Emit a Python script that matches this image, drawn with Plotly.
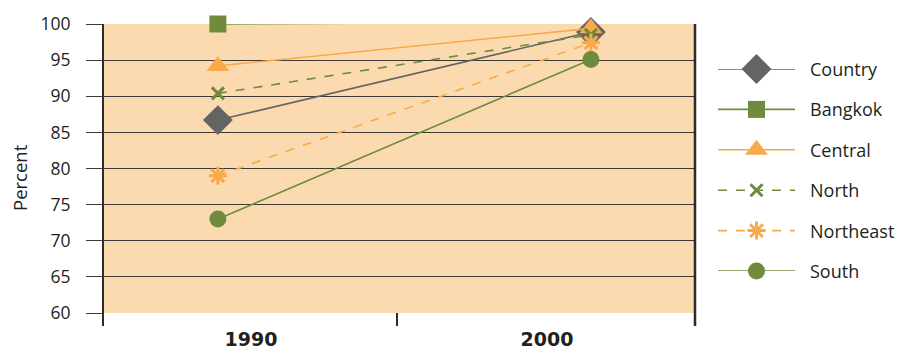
import plotly.graph_objects as go

years = [1990, 2000]
year_labels = ["1990", "2000"]
series_names = ["Country", "Bangkok", "Central", "North", "Northeast", "South"]
country = [86.7, 98.9]
bangkok = [100.0, 100.3]
central = [94.2, 99.4]
north = [90.4, 98.5]
northeast = [79.0, 97.4]
south = [73.0, 95.1]
y_ticks = [60, 65, 70, 75, 80, 85, 90, 95, 100]

values = [country, bangkok, central, north, northeast, south]
colors = ["#646464", "#6f8b3c", "#f9a94b", "#6f8b3c", "#f9a94b", "#6f8b3c"]
dashes = ["solid", "solid", "solid", "dash", "dash", "solid"]
symbols = ["diamond", "square", "triangle-up", "x-thin-open", "asterisk-open", "circle"]
sizes = [23, 17, 20, 12, 15, 17]

BG = "#fcdab0"
DARK = "#2e2a26"
TXT = "#231f20"
OFF = 8  # page body margin
W, H = 903 - OFF, 349 - OFF


def px(x):
    return (x - OFF) / W


def py(y):
    return (H - (y - OFF)) / H


# plot area in screen pixels
PX0, PX1, PY0, PY1 = 103, 695, 24, 313
xd = [px(PX0), px(PX1)]
yd = [py(PY1), py(PY0)]

# x axis: markers sit at fixed fractions of the plot width; labels at category centres
lo, hi = 1986.92, 2002.79
span = hi - lo
label_pos = [lo + 0.25 * span, lo + 0.75 * span]

fig = go.Figure()
for name, v, c, d, s, sz in zip(series_names, values, colors, dashes, symbols, sizes):
    marker = dict(symbol=s, size=sz, color=c)
    if "open" in s:
        marker["line"] = dict(width=3, color=c)
    fig.add_trace(go.Scatter(
        x=years, y=v, mode="lines+markers", name=name,
        line=dict(color=c, width=1.6, dash=d),
        marker=marker, cliponaxis=False, showlegend=False,
        xaxis="x", yaxis="y"))

# custom legend on its own axes
annotations = []
leg_rows = [69, 109, 150, 190, 231, 271]
for i, (name, c, d, s, sz) in enumerate(zip(series_names, colors, dashes, symbols, sizes)):
    marker = dict(symbol=s, size=sz, color=c)
    if "open" in s:
        marker["line"] = dict(width=3, color=c)
    fig.add_trace(go.Scatter(
        x=[0, 1, 2], y=[i, i, i], mode="lines", line=dict(color=c, width=1.6, dash=d),
        xaxis="x2", yaxis="y2", showlegend=False, hoverinfo="skip", cliponaxis=False))
    fig.add_trace(go.Scatter(
        x=[1], y=[i], mode="markers", marker=marker,
        xaxis="x2", yaxis="y2", showlegend=False, hoverinfo="skip", cliponaxis=False))
    annotations.append(dict(text=name, xref="paper", yref="paper", x=px(808),
                            y=py(leg_rows[i]), xanchor="left", yanchor="middle",
                            showarrow=False, font=dict(size=18, color=TXT)))

annotations.append(dict(text="Percent", xref="paper", yref="paper", x=px(19),
                        y=py(178), textangle=-90, showarrow=False,
                        xanchor="center", yanchor="middle",
                        font=dict(size=18.5, color=TXT)))

fig.update_layout(
    width=W, height=H,
    margin=dict(l=0, r=0, t=0, b=0),
    paper_bgcolor="white", plot_bgcolor="rgba(0,0,0,0)",
    font=dict(family="Open Sans", size=18, color=TXT),
    xaxis=dict(domain=xd, range=[lo, hi], tickvals=label_pos, ticktext=year_labels,
               tickfont=dict(size=19, family="DejaVu Sans", weight="bold", color=TXT),
               showgrid=False, zeroline=False, showline=False, ticks="",
               ticklabelstandoff=13, automargin=False, fixedrange=True),
    yaxis=dict(domain=yd, range=[60, 100], tickvals=y_ticks, showgrid=True,
               gridcolor="#3d3935", gridwidth=1.2, zeroline=False, showline=False,
               ticks="outside", ticklen=16, tickcolor="#3d3935", tickwidth=1.2,
               tickfont=dict(size=17.5, color=TXT),
               ticklabelstandoff=12, automargin=False, fixedrange=True),
    xaxis2=dict(domain=[px(718), px(795)], range=[0, 2], visible=False, fixedrange=True),
    yaxis2=dict(domain=[py(271), py(69)], range=[5, 0], visible=False,
                anchor="x2", fixedrange=True),
    showlegend=False,
    annotations=annotations,
    shapes=[
        dict(type="rect", xref="paper", yref="paper", x0=xd[0], x1=xd[1], y0=yd[0],
             y1=yd[1], fillcolor=BG, line=dict(width=0), layer="below"),
        dict(type="line", xref="paper", yref="paper", x0=xd[0], x1=xd[0], y0=yd[1],
             y1=py(326), line=dict(color=DARK, width=2)),
        dict(type="line", xref="paper", yref="paper", x0=px(397), x1=px(397), y0=yd[0],
             y1=py(326), line=dict(color=DARK, width=2)),
        dict(type="line", xref="paper", yref="paper", x0=xd[1], x1=xd[1], y0=yd[1],
             y1=py(326), line=dict(color=DARK, width=2.5)),
    ],
)

fig.write_html("out.html")
